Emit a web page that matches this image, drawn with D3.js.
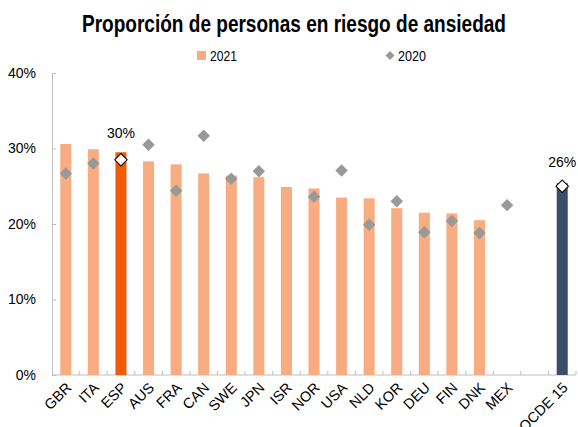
<!DOCTYPE html>
<html>
<head>
<meta charset="utf-8">
<script src="https://cdn.jsdelivr.net/npm/d3@7"></script>
<style>
  body { margin: 0; background: #fff; }
  text { font-family: "Liberation Sans", Arial, sans-serif; fill: #000; }
</style>
</head>
<body>
<div id="chart"></div>
<script>
const width = 578, height = 427
const margin = { top: 73, right: 2, bottom: 52, left: 52 }

// data
const countries = ["GBR", "ITA", "ESP", "AUS", "FRA", "CAN", "SWE", "JPN", "ISR", "NOR",
  "USA", "NLD", "KOR", "DEU", "FIN", "DNK", "MEX", "", "OCDE 15"]
const values2021 = [30.6, 29.9, 29.5, 28.3, 27.9, 26.7, 26.4, 26.2, 24.9, 24.7,
  23.5, 23.4, 22.1, 21.5, 21.4, 20.5, null, null, 25.4]
const values2020 = [26.7, 28.0, 28.5, 30.5, 24.4, 31.7, 26.0, 27.0, null, 23.6,
  27.1, 19.9, 23.0, 18.9, 20.4, 18.8, 22.5, null, 25.0]
const yTicks = [0, 10, 20, 30, 40]
const highlight = { "ESP": "30%", "OCDE 15": "26%" }

const keys = countries.map((c, i) => c === "" ? "blank" + i : c)

const svg = d3.select("#chart").append("svg")
  .attr("width", width)
  .attr("height", height)

const x = d3.scaleBand()
  .domain(keys)
  .range([margin.left, width - margin.right])
  .paddingInner(0.6)
  .paddingOuter(0.3)

const y = d3.scaleLinear()
  .domain([0, 40])
  .range([height - margin.bottom, margin.top])

function barColor(c) {
  if (c === "ESP") return "#f15a06"
  if (c === "OCDE 15") return "#3a5068"
  return "#f8ac82"
}

// title
svg.append("text")
  .attr("x", 294)
  .attr("y", 32)
  .attr("text-anchor", "middle")
  .attr("font-size", 23)
  .attr("font-weight", "bold")
  .attr("textLength", 424)
  .attr("lengthAdjust", "spacingAndGlyphs")
  .text("Proporción de personas en riesgo de ansiedad")

// legend
const legend = svg.append("g").attr("font-size", 15)
legend.append("rect")
  .attr("x", 197).attr("y", 51).attr("width", 9).attr("height", 9)
  .attr("fill", "#f8ac82")
legend.append("text").attr("x", 210).attr("y", 61)
  .attr("textLength", 27).attr("lengthAdjust", "spacingAndGlyphs").text("2021")
legend.append("path")
  .attr("d", d3.symbol(d3.symbolSquare, 40)())
  .attr("transform", "translate(390,55.5) rotate(45)")
  .attr("fill", "#999")
legend.append("text").attr("x", 398).attr("y", 61)
  .attr("textLength", 28).attr("lengthAdjust", "spacingAndGlyphs").text("2020")

// y axis
const yAxis = svg.append("g")
  .attr("transform", `translate(${margin.left},0)`)
  .call(d3.axisLeft(y).tickValues(yTicks).tickFormat(d => d + "%").tickSize(-4).tickPadding(16))
yAxis.selectAll("path, line").attr("stroke", "#bfbfbf")
yAxis.selectAll("text").attr("font-size", 14).attr("font-family", "Liberation Sans, Arial, sans-serif")

// x axis
const x0 = y(0)
svg.append("line")
  .attr("x1", margin.left).attr("x2", width - margin.right)
  .attr("y1", x0).attr("y2", x0)
  .attr("stroke", "#bfbfbf")
svg.selectAll(".xtick")
  .data(keys)
  .join("line")
  .attr("class", "xtick")
  .attr("x1", d => x(d) - x.step() * 0.3 + x.step())
  .attr("x2", d => x(d) - x.step() * 0.3 + x.step())
  .attr("y1", x0).attr("y2", x0 - 4)
  .attr("stroke", "#bfbfbf")

svg.selectAll(".xlabel")
  .data(countries)
  .join("text")
  .attr("class", "xlabel")
  .attr("font-size", 14.5)
  .attr("text-anchor", "end")
  .attr("transform", (d, i) => `translate(${x(keys[i]) + x.bandwidth() / 2 + 3},${x0 + 10}) rotate(-45)`)
  .attr("dy", "0.35em")
  .text(d => d)

// bars 2021
svg.selectAll(".bar")
  .data(countries.map((c, i) => ({ key: keys[i], c, v: values2021[i] })).filter(d => d.v != null))
  .join("rect")
  .attr("class", "bar")
  .attr("x", d => x(d.key))
  .attr("y", d => y(d.v))
  .attr("width", x.bandwidth())
  .attr("height", d => y(0) - y(d.v))
  .attr("fill", d => barColor(d.c))

// diamonds 2020
svg.selectAll(".dot")
  .data(countries.map((c, i) => ({ key: keys[i], c, v: values2020[i] })).filter(d => d.v != null))
  .join("path")
  .attr("class", "dot")
  .attr("d", d3.symbol(d3.symbolSquare, 78)())
  .attr("transform", d => `translate(${x(d.key) + x.bandwidth() / 2},${y(d.v)}) rotate(45)`)
  .attr("fill", d => highlight[d.c] ? "#fff" : "#999")
  .attr("stroke", d => highlight[d.c] ? "#000" : "none")
  .attr("stroke-width", 1)

// value labels
svg.selectAll(".vlabel")
  .data(countries.map((c, i) => ({ key: keys[i], c })).filter(d => highlight[d.c]))
  .join("text")
  .attr("class", "vlabel")
  .attr("font-size", 14)
  .attr("text-anchor", "middle")
  .attr("x", d => x(d.key) + x.bandwidth() / 2)
  .attr("y", d => d.c === "ESP" ? 138 : 167)
  .text(d => highlight[d.c])
</script>
</body>
</html>
